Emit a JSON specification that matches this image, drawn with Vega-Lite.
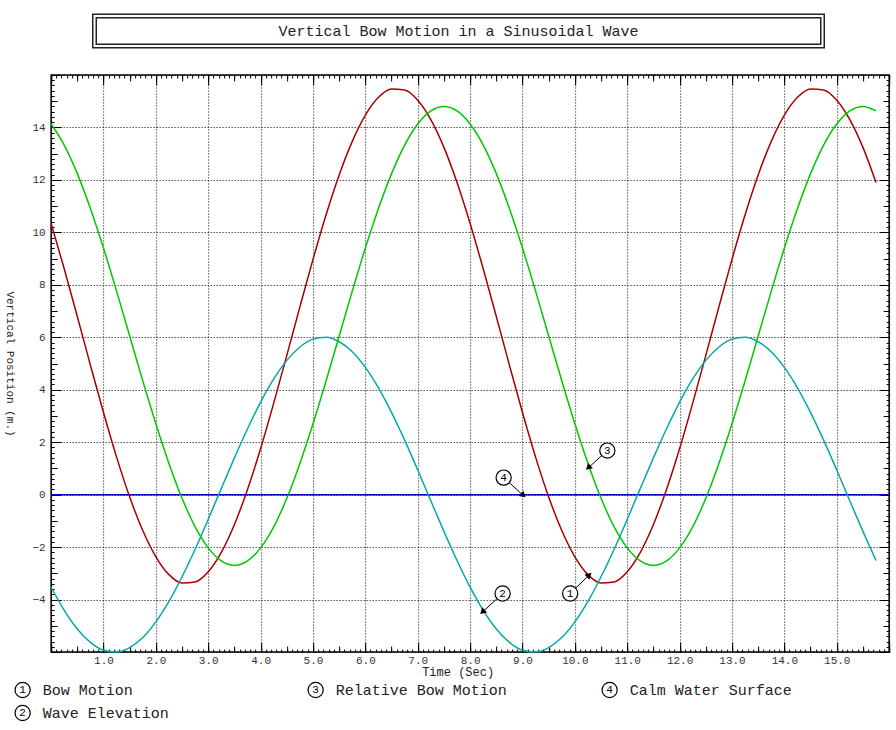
{
  "$schema": "https://vega.github.io/schema/vega-lite/v6.json",
  "background": "white",
  "padding": {"left": 4, "top": 13, "right": 0, "bottom": 0},
  "config": {
    "font": "Liberation Mono",
    "view": {"stroke": null},
    "text": {"font": "Liberation Mono"},
    "axis": {
      "minExtent": 0,
      "labelFont": "Liberation Mono",
      "titleFont": "Liberation Mono",
      "labelColor": "#333333",
      "titleColor": "#222222",
      "titleFontWeight": "normal",
      "tickColor": "black",
      "tickWidth": 1,
      "domainColor": "black",
      "gridColor": "black",
      "gridDash": [1, 2],
      "gridOpacity": 1,
      "gridWidth": 1
    }
  },
  "datasets": {
    "heading": [{"title": "Vertical Bow Motion in a Sinusoidal Wave"}],
    "series": [
      {"id": 1, "name": "Bow Motion"},
      {"id": 2, "name": "Wave Elevation"},
      {"id": 3, "name": "Relative Bow Motion"},
      {"id": 4, "name": "Calm Water Surface"}
    ],
    "notes": [
      {"id": 1, "t": 9.91, "v": -3.77, "tt": 10.26, "tv": -3.09},
      {"id": 2, "t": 8.62, "v": -3.77, "tt": 8.25, "tv": -4.45},
      {"id": 3, "t": 10.62, "v": 1.68, "tt": 10.27, "tv": 1.05},
      {"id": 4, "t": 8.64, "v": 0.65, "tt": 9.0, "tv": 0}
    ],
    "calm": [
      {"t": 0, "v": 0},
      {"t": 16, "v": 0}
    ],
    "curves": [
      {"t": 0, "v": 10.34, "s": "1"}, {"t": 0.25, "v": 8.61, "s": "1"}, {"t": 0.5, "v": 6.79, "s": "1"}, {"t": 0.75, "v": 4.94, "s": "1"},
      {"t": 1, "v": 3.13, "s": "1"}, {"t": 1.25, "v": 1.43, "s": "1"}, {"t": 1.5, "v": -0.09, "s": "1"}, {"t": 1.75, "v": -1.37, "s": "1"},
      {"t": 2, "v": -2.37, "s": "1"}, {"t": 2.25, "v": -3.05, "s": "1"}, {"t": 2.5, "v": -3.37, "s": "1"}, {"t": 2.75, "v": -3.33, "s": "1"},
      {"t": 3, "v": -2.94, "s": "1"}, {"t": 3.25, "v": -2.2, "s": "1"}, {"t": 3.5, "v": -1.14, "s": "1"}, {"t": 3.75, "v": 0.2, "s": "1"},
      {"t": 4, "v": 1.76, "s": "1"}, {"t": 4.25, "v": 3.49, "s": "1"}, {"t": 4.5, "v": 5.31, "s": "1"}, {"t": 4.75, "v": 7.16, "s": "1"},
      {"t": 5, "v": 8.97, "s": "1"}, {"t": 5.25, "v": 10.67, "s": "1"}, {"t": 5.5, "v": 12.19, "s": "1"}, {"t": 5.75, "v": 13.47, "s": "1"},
      {"t": 6, "v": 14.47, "s": "1"}, {"t": 6.25, "v": 15.15, "s": "1"}, {"t": 6.5, "v": 15.47, "s": "1"}, {"t": 6.75, "v": 15.43, "s": "1"},
      {"t": 7, "v": 15.04, "s": "1"}, {"t": 7.25, "v": 14.3, "s": "1"}, {"t": 7.5, "v": 13.24, "s": "1"}, {"t": 7.75, "v": 11.9, "s": "1"},
      {"t": 8, "v": 10.34, "s": "1"}, {"t": 8.25, "v": 8.61, "s": "1"}, {"t": 8.5, "v": 6.79, "s": "1"}, {"t": 8.75, "v": 4.94, "s": "1"},
      {"t": 9, "v": 3.13, "s": "1"}, {"t": 9.25, "v": 1.43, "s": "1"}, {"t": 9.5, "v": -0.09, "s": "1"}, {"t": 9.75, "v": -1.37, "s": "1"},
      {"t": 10, "v": -2.37, "s": "1"}, {"t": 10.25, "v": -3.05, "s": "1"}, {"t": 10.5, "v": -3.37, "s": "1"}, {"t": 10.75, "v": -3.33, "s": "1"},
      {"t": 11, "v": -2.94, "s": "1"}, {"t": 11.25, "v": -2.2, "s": "1"}, {"t": 11.5, "v": -1.14, "s": "1"}, {"t": 11.75, "v": 0.2, "s": "1"},
      {"t": 12, "v": 1.76, "s": "1"}, {"t": 12.25, "v": 3.49, "s": "1"}, {"t": 12.5, "v": 5.31, "s": "1"}, {"t": 12.75, "v": 7.16, "s": "1"},
      {"t": 13, "v": 8.97, "s": "1"}, {"t": 13.25, "v": 10.67, "s": "1"}, {"t": 13.5, "v": 12.19, "s": "1"}, {"t": 13.75, "v": 13.47, "s": "1"},
      {"t": 14, "v": 14.47, "s": "1"}, {"t": 14.25, "v": 15.15, "s": "1"}, {"t": 14.5, "v": 15.47, "s": "1"}, {"t": 14.75, "v": 15.43, "s": "1"},
      {"t": 15, "v": 15.04, "s": "1"}, {"t": 15.25, "v": 14.3, "s": "1"}, {"t": 15.5, "v": 13.24, "s": "1"}, {"t": 15.75, "v": 11.9, "s": "1"},

      {"t": 0, "v": -3.53, "s": "2"}, {"t": 0.25, "v": -4.41, "s": "2"}, {"t": 0.5, "v": -5.12, "s": "2"}, {"t": 0.75, "v": -5.63, "s": "2"},
      {"t": 1, "v": -5.93, "s": "2"}, {"t": 1.25, "v": -6, "s": "2"}, {"t": 1.5, "v": -5.83, "s": "2"}, {"t": 1.75, "v": -5.45, "s": "2"},
      {"t": 2, "v": -4.85, "s": "2"}, {"t": 2.25, "v": -4.07, "s": "2"}, {"t": 2.5, "v": -3.13, "s": "2"}, {"t": 2.75, "v": -2.08, "s": "2"},
      {"t": 3, "v": -0.94, "s": "2"}, {"t": 3.25, "v": 0.24, "s": "2"}, {"t": 3.5, "v": 1.4, "s": "2"}, {"t": 3.75, "v": 2.51, "s": "2"},
      {"t": 4, "v": 3.53, "s": "2"}, {"t": 4.25, "v": 4.41, "s": "2"}, {"t": 4.5, "v": 5.12, "s": "2"}, {"t": 4.75, "v": 5.63, "s": "2"},
      {"t": 5, "v": 5.93, "s": "2"}, {"t": 5.25, "v": 6, "s": "2"}, {"t": 5.5, "v": 5.83, "s": "2"}, {"t": 5.75, "v": 5.45, "s": "2"},
      {"t": 6, "v": 4.85, "s": "2"}, {"t": 6.25, "v": 4.07, "s": "2"}, {"t": 6.5, "v": 3.13, "s": "2"}, {"t": 6.75, "v": 2.08, "s": "2"},
      {"t": 7, "v": 0.94, "s": "2"}, {"t": 7.25, "v": -0.24, "s": "2"}, {"t": 7.5, "v": -1.4, "s": "2"}, {"t": 7.75, "v": -2.51, "s": "2"},
      {"t": 8, "v": -3.53, "s": "2"}, {"t": 8.25, "v": -4.41, "s": "2"}, {"t": 8.5, "v": -5.12, "s": "2"}, {"t": 8.75, "v": -5.63, "s": "2"},
      {"t": 9, "v": -5.93, "s": "2"}, {"t": 9.25, "v": -6, "s": "2"}, {"t": 9.5, "v": -5.83, "s": "2"}, {"t": 9.75, "v": -5.45, "s": "2"},
      {"t": 10, "v": -4.85, "s": "2"}, {"t": 10.25, "v": -4.07, "s": "2"}, {"t": 10.5, "v": -3.13, "s": "2"}, {"t": 10.75, "v": -2.08, "s": "2"},
      {"t": 11, "v": -0.94, "s": "2"}, {"t": 11.25, "v": 0.24, "s": "2"}, {"t": 11.5, "v": 1.4, "s": "2"}, {"t": 11.75, "v": 2.51, "s": "2"},
      {"t": 12, "v": 3.53, "s": "2"}, {"t": 12.25, "v": 4.41, "s": "2"}, {"t": 12.5, "v": 5.12, "s": "2"}, {"t": 12.75, "v": 5.63, "s": "2"},
      {"t": 13, "v": 5.93, "s": "2"}, {"t": 13.25, "v": 6, "s": "2"}, {"t": 13.5, "v": 5.83, "s": "2"}, {"t": 13.75, "v": 5.45, "s": "2"},
      {"t": 14, "v": 4.85, "s": "2"}, {"t": 14.25, "v": 4.07, "s": "2"}, {"t": 14.5, "v": 3.13, "s": "2"}, {"t": 14.75, "v": 2.08, "s": "2"},
      {"t": 15, "v": 0.94, "s": "2"}, {"t": 15.25, "v": -0.24, "s": "2"}, {"t": 15.5, "v": -1.4, "s": "2"}, {"t": 15.75, "v": -2.51, "s": "2"},

      {"t": 0, "v": 14.13, "s": "3"}, {"t": 0.25, "v": 13.33, "s": "3"}, {"t": 0.5, "v": 12.24, "s": "3"}, {"t": 0.75, "v": 10.91, "s": "3"},
      {"t": 1, "v": 9.4, "s": "3"}, {"t": 1.25, "v": 7.76, "s": "3"}, {"t": 1.5, "v": 6.05, "s": "3"}, {"t": 1.75, "v": 4.34, "s": "3"},
      {"t": 2, "v": 2.7, "s": "3"}, {"t": 2.25, "v": 1.19, "s": "3"}, {"t": 2.5, "v": -0.14, "s": "3"}, {"t": 2.75, "v": -1.23, "s": "3"},
      {"t": 3, "v": -2.03, "s": "3"}, {"t": 3.25, "v": -2.53, "s": "3"}, {"t": 3.5, "v": -2.7, "s": "3"}, {"t": 3.75, "v": -2.53, "s": "3"},
      {"t": 4, "v": -2.03, "s": "3"}, {"t": 4.25, "v": -1.23, "s": "3"}, {"t": 4.5, "v": -0.14, "s": "3"}, {"t": 4.75, "v": 1.19, "s": "3"},
      {"t": 5, "v": 2.7, "s": "3"}, {"t": 5.25, "v": 4.34, "s": "3"}, {"t": 5.5, "v": 6.05, "s": "3"}, {"t": 5.75, "v": 7.76, "s": "3"},
      {"t": 6, "v": 9.4, "s": "3"}, {"t": 6.25, "v": 10.91, "s": "3"}, {"t": 6.5, "v": 12.24, "s": "3"}, {"t": 6.75, "v": 13.33, "s": "3"},
      {"t": 7, "v": 14.13, "s": "3"}, {"t": 7.25, "v": 14.63, "s": "3"}, {"t": 7.5, "v": 14.8, "s": "3"}, {"t": 7.75, "v": 14.63, "s": "3"},
      {"t": 8, "v": 14.13, "s": "3"}, {"t": 8.25, "v": 13.33, "s": "3"}, {"t": 8.5, "v": 12.24, "s": "3"}, {"t": 8.75, "v": 10.91, "s": "3"},
      {"t": 9, "v": 9.4, "s": "3"}, {"t": 9.25, "v": 7.76, "s": "3"}, {"t": 9.5, "v": 6.05, "s": "3"}, {"t": 9.75, "v": 4.34, "s": "3"},
      {"t": 10, "v": 2.7, "s": "3"}, {"t": 10.25, "v": 1.19, "s": "3"}, {"t": 10.5, "v": -0.14, "s": "3"}, {"t": 10.75, "v": -1.23, "s": "3"},
      {"t": 11, "v": -2.03, "s": "3"}, {"t": 11.25, "v": -2.53, "s": "3"}, {"t": 11.5, "v": -2.7, "s": "3"}, {"t": 11.75, "v": -2.53, "s": "3"},
      {"t": 12, "v": -2.03, "s": "3"}, {"t": 12.25, "v": -1.23, "s": "3"}, {"t": 12.5, "v": -0.14, "s": "3"}, {"t": 12.75, "v": 1.19, "s": "3"},
      {"t": 13, "v": 2.7, "s": "3"}, {"t": 13.25, "v": 4.34, "s": "3"}, {"t": 13.5, "v": 6.05, "s": "3"}, {"t": 13.75, "v": 7.76, "s": "3"},
      {"t": 14, "v": 9.4, "s": "3"}, {"t": 14.25, "v": 10.91, "s": "3"}, {"t": 14.5, "v": 12.24, "s": "3"}, {"t": 14.75, "v": 13.33, "s": "3"},
      {"t": 15, "v": 14.13, "s": "3"}, {"t": 15.25, "v": 14.63, "s": "3"}, {"t": 15.5, "v": 14.8, "s": "3"}, {"t": 15.75, "v": 14.63, "s": "3"}
    ]
  },
  "spacing": 24,
  "center": true,
  "vconcat": [
    {
      "width": 728,
      "height": 30,
      "data": {"name": "heading"},
      "layer": [
        {"mark": {"type": "rect", "filled": false, "stroke": "#222222", "strokeWidth": 5}, "encoding": {}},
        {"mark": {"type": "rect", "filled": false, "stroke": "white", "strokeWidth": 2}, "encoding": {}},
        {
          "mark": {"type": "text", "fontSize": 15, "color": "#222222"},
          "encoding": {
            "text": {"field": "title", "type": "nominal"},
            "y": {
              "datum": 0,
              "type": "quantitative",
              "scale": {"domain": [-1, 1]},
              "axis": {"orient": "right", "title": null, "labels": false, "ticks": false, "domain": false, "grid": false, "minExtent": 27, "maxExtent": 27}
            }
          }
        }
      ]
    },
    {
      "spacing": 0,
      "vconcat": [
        {
          "width": 838,
          "height": 577,
          "view": {"stroke": "black", "strokeWidth": 1.5},
          "resolve": {"axis": {"x": "independent", "y": "independent"}},
          "layer": [
            {
              "data": {"name": "calm"},
              "mark": {"type": "line", "color": "#0000d0", "strokeWidth": 1.5},
              "encoding": {
                "x": {"field": "t", "type": "quantitative", "scale": {"domain": [0, 16], "nice": false, "zero": false},
                      "axis": {"orient": "top", "tickCount": 160, "labels": false, "grid": false, "domain": false, "tickSize": 3, "offset": -3, "title": null}},
                "y": {"field": "v", "type": "quantitative", "scale": {"domain": [-6, 16], "nice": false, "zero": false},
                      "axis": {"orient": "right", "tickCount": 110, "labels": false, "grid": false, "domain": false, "tickSize": 3, "offset": -3, "title": null}}
              }
            },
            {
              "data": {"name": "curves"},
              "transform": [{"filter": "datum.s != '3'"}],
              "mark": {"type": "line", "strokeWidth": 1.5, "interpolate": "monotone"},
              "encoding": {
                "x": {"field": "t", "type": "quantitative",
                      "axis": {"orient": "bottom", "tickCount": 16, "labelExpr": "datum.value > 0 && datum.value < 16 ? format(datum.value, '.1f') : ''",
                               "grid": true, "ticks": false, "labelPadding": 2, "labelFontSize": 11, "domain": false,
                               "title": "Time (Sec)", "titleFontSize": 12, "titlePadding": 1, "titleX": 406.5}},
                "y": {"field": "v", "type": "quantitative",
                      "axis": {"orient": "left", "tickCount": 11, "labelExpr": "datum.value > -6 && datum.value < 16 ? format(datum.value, 'd') : ''",
                               "grid": true, "ticks": false, "labelPadding": 6, "labelFontSize": 11, "domain": false,
                               "title": "Vertical Position (m.)", "titleAngle": 90, "titleBaseline": "top", "titleFontSize": 11, "titlePadding": 16}},
                "color": {"field": "s", "type": "nominal",
                          "scale": {"domain": ["1", "2", "3"], "range": ["#a80000", "#00aaaa", "#00c800"]}, "legend": null}
              }
            },
            {
              "data": {"name": "curves"},
              "transform": [{"filter": "datum.s == '3'"}],
              "mark": {"type": "line", "strokeWidth": 1.5, "interpolate": "monotone"},
              "encoding": {
                "x": {"field": "t", "type": "quantitative",
                      "axis": {"orient": "bottom", "tickCount": 16, "labels": false, "grid": false, "domain": false, "tickSize": 10, "offset": -10, "title": null}},
                "y": {"field": "v", "type": "quantitative",
                      "axis": {"orient": "left", "tickCount": 11, "labels": false, "grid": false, "domain": false, "tickSize": 10, "offset": -10, "title": null}},
                "color": {"field": "s", "type": "nominal", "legend": null}
              }
            },
            {
              "data": {"name": "notes"},
              "mark": {"type": "rule", "color": "black", "strokeWidth": 1},
              "encoding": {
                "x": {"field": "t", "type": "quantitative",
                      "axis": {"orient": "bottom", "tickCount": 160, "labels": false, "grid": false, "domain": false, "tickSize": 3, "offset": -3, "title": null}},
                "x2": {"field": "tt"},
                "y": {"field": "v", "type": "quantitative",
                      "axis": {"orient": "left", "tickCount": 110, "labels": false, "grid": false, "domain": false, "tickSize": 3, "offset": -3, "title": null}},
                "y2": {"field": "tv"}
              }
            },
            {
              "data": {"name": "notes"},
              "mark": {"type": "point", "shape": "triangle", "filled": true, "color": "black", "opacity": 1, "size": 50},
              "encoding": {
                "x": {"field": "tt", "type": "quantitative",
                      "axis": {"orient": "bottom", "tickCount": 32, "labels": false, "grid": false, "domain": false, "tickSize": 6, "offset": -6, "title": null}},
                "y": {"field": "tv", "type": "quantitative",
                      "axis": {"orient": "left", "tickCount": 22, "labels": false, "grid": false, "domain": false, "tickSize": 6, "offset": -6, "title": null}},
                "angle": {"field": "id", "type": "quantitative",
                          "scale": {"domain": [1, 2, 3, 4], "range": [45.6, 227.3, 228, 132.1]}, "legend": null}
              }
            },
            {
              "data": {"name": "notes"},
              "mark": {"type": "point", "shape": "circle", "filled": true, "fill": "white", "stroke": "black", "strokeWidth": 1.2, "opacity": 1, "size": 230},
              "encoding": {
                "x": {"field": "t", "type": "quantitative",
                      "axis": {"orient": "top", "tickCount": 32, "labels": false, "grid": false, "domain": false, "tickSize": 6, "offset": -6, "title": null}},
                "y": {"field": "v", "type": "quantitative",
                      "axis": {"orient": "right", "tickCount": 22, "labels": false, "grid": false, "domain": false, "tickSize": 6, "offset": -6, "title": null}}
              }
            },
            {
              "data": {"name": "notes"},
              "mark": {"type": "text", "fontSize": 11, "color": "black"},
              "encoding": {
                "text": {"field": "id", "type": "nominal"},
                "x": {"field": "t", "type": "quantitative",
                      "axis": {"orient": "top", "tickCount": 16, "labels": false, "grid": false, "domain": false, "tickSize": 10, "offset": -10, "title": null}},
                "y": {"field": "v", "type": "quantitative",
                      "axis": {"orient": "right", "tickCount": 11, "labels": false, "grid": false, "domain": false, "tickSize": 10, "offset": -10, "title": null}}
              }
            }
          ]
        },
        {
          "width": 700,
          "height": 35,
          "data": {"name": "series"},
          "encoding": {
            "x": {"field": "id", "type": "quantitative", "axis": null,
                  "scale": {"domain": [1, 2, 3, 4], "range": [-28.5, -28.5, 264.5, 558.5], "nice": false, "zero": false}},
            "y": {"field": "id", "type": "quantitative", "axis": null,
                  "scale": {"domain": [1, 2, 3, 4], "range": [12, 35, 12, 12], "nice": false, "zero": false}}
          },
          "layer": [
            {"mark": {"type": "point", "shape": "circle", "filled": true, "fill": "white", "stroke": "black", "strokeWidth": 1.2, "opacity": 1, "size": 230}},
            {"mark": {"type": "text", "fontSize": 11, "color": "black"}, "encoding": {"text": {"field": "id", "type": "nominal"}}},
            {"mark": {"type": "text", "align": "left", "dx": 20, "fontSize": 15, "color": "#222222"}, "encoding": {"text": {"field": "name", "type": "nominal"}}}
          ]
        }
      ]
    }
  ]
}
